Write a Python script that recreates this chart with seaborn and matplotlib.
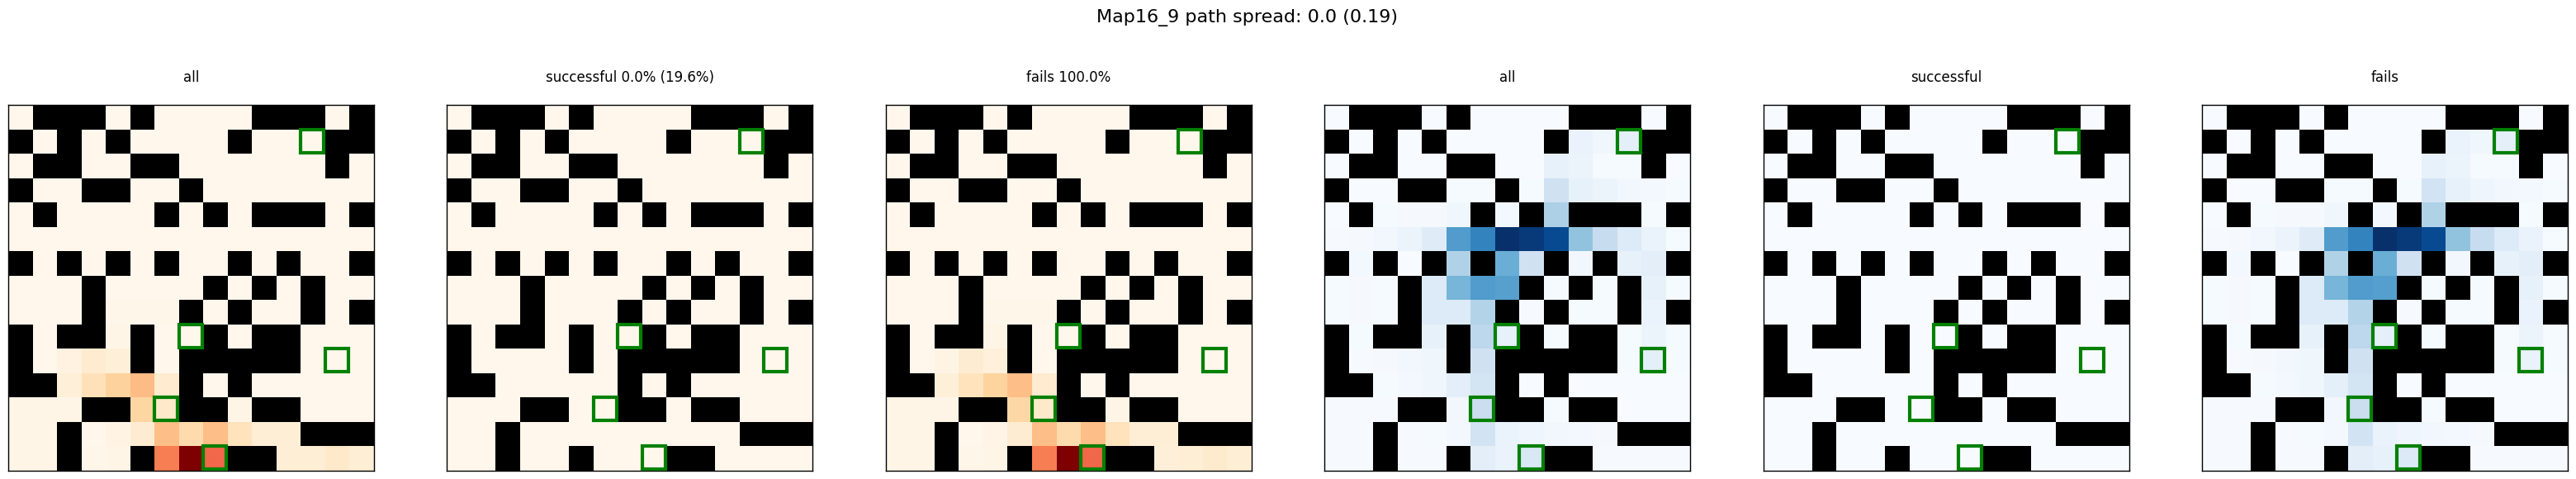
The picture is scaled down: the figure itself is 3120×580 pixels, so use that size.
import numpy as np
import matplotlib
matplotlib.use('Agg')
import matplotlib.pyplot as plt
from matplotlib.colors import ListedColormap
from matplotlib.patches import Rectangle
import seaborn as sns

# map layout, # = wall
walls = [
    '.###.#....###.#',
    '#.#.#....#...##',
    '.##..##......#.',
    '#..##..#.......',
    '.#....#.#.###.#',
    '...............',
    '#.#.#.#..#.#..#',
    '...#....#.#.#..',
    '...#...#.#..#.#',
    '#.##.#..#.##...',
    '#....#.#####...',
    '##.....#.#.....',
    '...##..##.##...',
    '..#.........###',
    '..#..#...##....',
]

# (col, row) of the goal boxes
goals = [(12, 1), (7, 9), (13, 10), (6, 12), (8, 14)]

orange_all = [
    [0, 0, 0, 0, 0, 0, 0, 0, 0, 0, 0, 0, 0, 0, 0],
    [0, 0, 0, 0, 0, 0, 0, 0, 0, 0, 0, 0, 0, 0, 0],
    [0, 0, 0, 0, 0, 0, 0, 0, 0, 0, 0, 0, 0, 0, 0],
    [0, 0, 0, 0, 0, 0, 0, 0, 0, 0, 0, 0, 0, 0, 0],
    [0, 0, 0, 0, 0, 0, 0, 0, 0, 0, 0, 0, 0, 0, 0],
    [0, 0, 0, 0, 0, 0, 0, 0, 0, 0, 0, 0, 0, 0, 0],
    [0, 0, 0, 0, 0, 0, 0, 0, 0, 0, 0, 0, 0, 0, 0],
    [0, 0, 0, 0, 0, 0, 0, 0, 0, 0, 0, 0, 0, 0, 0],
    [0, 0, 0, 0, .01, .01, .01, 0, 0, 0, 0, 0, 0, 0, 0],
    [0, 0, 0, 0, .02, 0, .005, 0, 0, 0, 0, 0, 0, 0, 0],
    [0, 0, .04, .1, .07, 0, .005, 0, 0, 0, 0, 0, 0, 0, 0],
    [0, 0, .07, .17, .26, .37, .1, 0, 0, 0, 0, 0, 0, 0, 0],
    [.02, .02, .02, 0, 0, .24, .12, 0, 0, .02, 0, 0, 0, 0, 0],
    [.02, .02, 0, .005, .03, .09, .36, .21, .36, .16, .08, .08, 0, 0, 0],
    [.02, .02, 0, .01, .02, 0, .55, 1.0, .62, 0, 0, .08, .08, .12, .08],
]

orange_success = [
    [0, 0, 0, 0, 0, 0, 0, 0, 0, 0, 0, 0, 0, 0, 0] for row in walls
]

orange_fails = [
    [0, 0, 0, 0, 0, 0, 0, 0, 0, 0, 0, 0, 0, 0, 0],
    [0, 0, 0, 0, 0, 0, 0, 0, 0, 0, 0, 0, 0, 0, 0],
    [0, 0, 0, 0, 0, 0, 0, 0, 0, 0, 0, 0, 0, 0, 0],
    [0, 0, 0, 0, 0, 0, 0, 0, 0, 0, 0, 0, 0, 0, 0],
    [0, 0, 0, 0, 0, 0, 0, 0, 0, 0, 0, 0, 0, 0, 0],
    [0, 0, 0, 0, 0, 0, 0, 0, 0, 0, 0, 0, 0, 0, 0],
    [0, 0, 0, 0, 0, 0, 0, 0, 0, 0, 0, 0, 0, 0, 0],
    [0, 0, 0, 0, 0, 0, 0, 0, 0, 0, 0, 0, 0, 0, 0],
    [0, 0, 0, 0, .01, .01, .01, 0, 0, 0, 0, 0, 0, 0, 0],
    [0, 0, 0, 0, .02, 0, .005, 0, 0, 0, 0, 0, 0, 0, 0],
    [0, 0, .03, .09, .06, 0, .005, 0, 0, 0, 0, 0, 0, 0, 0],
    [0, 0, .07, .16, .25, .36, .1, 0, 0, 0, 0, 0, 0, 0, 0],
    [.02, .02, .02, 0, 0, .23, .12, 0, 0, .02, 0, 0, 0, 0, 0],
    [.02, .02, 0, .005, .025, .09, .36, .21, .36, .16, .08, .08, 0, 0, 0],
    [.02, .02, 0, .01, .02, 0, .55, 1.0, .62, 0, 0, .07, .08, .11, .08],
]

blue_all = [
    [0, 0, 0, 0, 0, 0, 0, 0, 0, 0, 0, 0, 0, 0, 0],
    [0, 0, 0, 0, 0, 0, 0, 0, 0, 0, .07, .04, .09, 0, 0],
    [0, 0, 0, 0, 0, 0, 0, 0, 0, .08, .06, .01, .01, 0, 0],
    [0, 0, 0, 0, 0, .01, .01, 0, .01, .2, .08, .06, .03, .02, .01],
    [0, 0, .01, .015, .015, .04, 0, .02, 0, .33, 0, 0, 0, .01, 0],
    [.005, .015, .035, .06, .12, .58, .68, 1.0, .96, .9, .41, .24, .13, .07, .01],
    [0, .02, 0, 0, 0, .32, 0, .5, .2, 0, .03, 0, .08, .1, 0],
    [.01, .015, .01, 0, .13, .47, .58, .56, 0, .01, 0, .01, 0, .08, .01],
    [.01, .015, .01, 0, .13, .13, .31, 0, .005, 0, .01, .01, 0, .07, 0],
    [0, .01, 0, 0, .08, 0, .28, .08, 0, .01, 0, 0, .01, .06, .01],
    [0, .005, .015, .03, .04, 0, .2, 0, 0, 0, 0, 0, .01, .09, .01],
    [0, 0, .01, .02, .04, .1, .18, 0, 0, 0, 0, 0, 0, 0, 0],
    [.005, .005, .005, 0, 0, .03, .23, 0, 0, .01, 0, 0, 0, 0, 0],
    [.005, .005, 0, .005, .01, .02, .19, .07, .05, .03, .02, .015, 0, 0, 0],
    [.005, .005, 0, .005, .005, 0, .1, .07, .15, 0, 0, .005, .005, .005, .005],
]

blue_success = [
    [0, 0, 0, 0, 0, 0, 0, 0, 0, 0, 0, 0, 0, 0, 0] for row in walls
]

blue_fails = [
    [0, 0, 0, 0, 0, 0, 0, 0, 0, 0, 0, 0, 0, 0, 0],
    [0, 0, 0, 0, 0, 0, 0, 0, 0, 0, .07, .04, .09, 0, 0],
    [0, 0, 0, 0, 0, 0, 0, 0, 0, .08, .06, .01, .01, 0, 0],
    [0, 0, 0, 0, 0, .01, .01, 0, .01, .19, .08, .05, .03, .02, .01],
    [0, 0, .01, .015, .015, .04, 0, .02, 0, .32, 0, 0, 0, .01, 0],
    [.005, .015, .035, .06, .12, .58, .68, 1.0, .96, .9, .41, .24, .13, .07, .01],
    [0, .02, 0, 0, 0, .32, 0, .5, .2, 0, .03, 0, .08, .1, 0],
    [.01, .015, .01, 0, .13, .47, .58, .57, 0, .01, 0, .01, 0, .08, .01],
    [.01, .015, .01, 0, .13, .13, .31, 0, .005, 0, .01, .01, 0, .07, 0],
    [0, .01, 0, 0, .08, 0, .28, .09, 0, .01, 0, 0, .01, .06, .01],
    [0, .005, .015, .03, .04, 0, .2, 0, 0, 0, 0, 0, .01, .07, .01],
    [0, 0, .01, .02, .04, .09, .18, 0, 0, 0, 0, 0, 0, 0, 0],
    [.005, .005, .005, 0, 0, .03, .23, 0, 0, .01, 0, 0, 0, 0, 0],
    [.005, .005, 0, .005, .01, .02, .19, .07, .05, .03, .02, .015, 0, 0, 0],
    [.005, .005, 0, .005, .005, 0, .1, .08, .14, 0, 0, .005, .005, .005, .005],
]

panel_titles = ['all', 'successful 0.0% (19.6%)', 'fails 100.0%', 'all', 'successful', 'fails']
panel_data = [orange_all, orange_success, orange_fails, blue_all, blue_success, blue_fails]
panel_cmaps = ['OrRd', 'OrRd', 'OrRd', 'Blues', 'Blues', 'Blues']

wall_mask = np.array([[c == '#' for c in row] for row in walls])

fig, axes = plt.subplots(1, 6, figsize=(31.2, 5.8), dpi=100)
fig.subplots_adjust(left=10 / 3120, right=3110 / 3120, top=1 - 127 / 580, bottom=1 - 570 / 580, wspace=0.2)

for ax, data, name, cmap in zip(axes, panel_data, panel_titles, panel_cmaps):
    sns.heatmap(np.array(data), mask=wall_mask, cmap=cmap, vmin=0, vmax=1, cbar=False,
                square=True, xticklabels=False, yticklabels=False, ax=ax)
    # walls on top in black
    sns.heatmap(np.ones_like(wall_mask, dtype=float), mask=~wall_mask, cmap=ListedColormap(['black']),
                cbar=False, square=True, xticklabels=False, yticklabels=False, ax=ax)
    for col, row in goals:
        ax.add_patch(Rectangle((col, row), 0.95, 0.95, fill=False, edgecolor='green', lw=3, clip_on=False, zorder=5))
    for spine in ax.spines.values():
        spine.set_visible(True)
        spine.set_linewidth(1.0)
    ax.set_title(name, fontsize=12, pad=20)

fig.suptitle('Map16_9 path spread: 0.0 (0.19)', fontsize=16, x=1510 / 3120, y=1 - 11 / 580, va='top')
fig.savefig('out.png')
